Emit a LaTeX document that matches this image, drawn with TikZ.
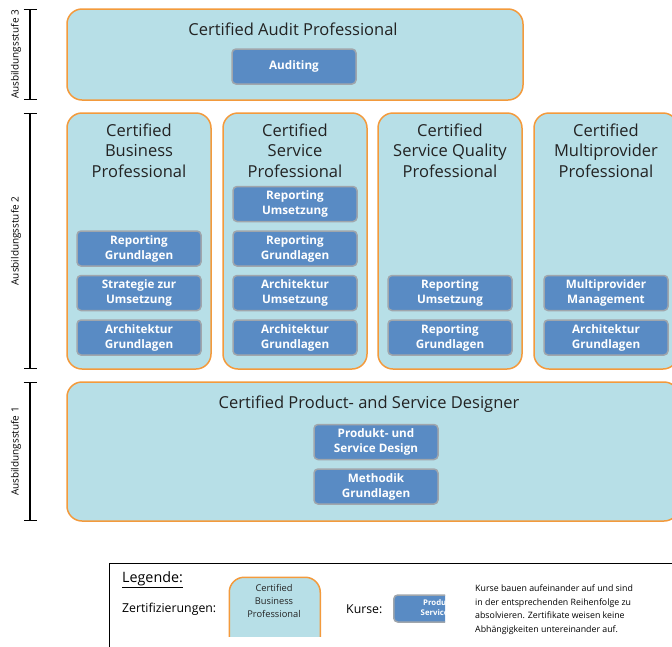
\documentclass[tikz,border=0pt]{standalone}
\usepackage{fontspec}
\setmainfont{Open Sans}
\usetikzlibrary{positioning,arrows.meta}
\definecolor{certblau}{RGB}{183,223,231}
\definecolor{certorange}{RGB}{243,154,60}
\definecolor{kursblau}{RGB}{89,139,196}
\definecolor{kursgrau}{RGB}{160,166,172}
\definecolor{titelgrau}{RGB}{35,35,35}
\begin{document}
\begin{tikzpicture}[x=1pt, y=-1pt,
  cert/.style={rectangle, rounded corners=15pt, draw=certorange, line width=1.5pt, fill=certblau, inner sep=0pt},
  kurs/.style={rectangle, rounded corners=4pt, draw=kursgrau, line width=1.5pt, fill=kursblau, text=white,
    font=\bfseries\fontsize{11.7}{15}\selectfont, align=center, minimum width=124pt, minimum height=35pt, inner sep=0pt},
  titel/.style={font=\fontsize{16.5}{20.5}\selectfont, text=titelgrau, align=center, inner sep=0pt},
  stufe/.style={{Bar[width=13pt]}-{Bar[width=13pt]}, line width=1.2pt},
  stufentext/.style={rotate=90, font=\fontsize{10}{11}\selectfont}
]
\useasboundingbox (0,0) rectangle (672,646);
\clip (0,0) rectangle (672,646);

% Ausbildungsstufe 3
\node[cert, minimum width=456pt, minimum height=91pt] (cap) at (295,54.5) {};
\node[titel, below=14pt of cap.north, xshift=-2pt] (captitel) {Certified Audit Professional};
\node[kurs] (auditing) at (294,66.5) {Auditing};

% Ausbildungsstufe 2
\node[cert, minimum width=144pt, minimum height=256pt] (cbp) at (139,241) {};
\node[titel, below=11pt of cbp.north] {Certified\\Business\\Professional};
\node[kurs, above=14pt of cbp.south] (cbp1) {Architektur\\Grundlagen};
\node[kurs, above=8pt of cbp1] (cbp2) {Strategie zur\\Umsetzung};
\node[kurs, above=8pt of cbp2] (cbp3) {Reporting\\Grundlagen};

\node[cert, minimum width=144pt, minimum height=256pt] (csp) at (295,241) {};
\node[titel, below=11pt of csp.north] {Certified\\Service\\Professional};
\node[kurs, above=14pt of csp.south] (csp1) {Architektur\\Grundlagen};
\node[kurs, above=8pt of csp1] (csp2) {Architektur\\Umsetzung};
\node[kurs, above=8pt of csp2] (csp3) {Reporting\\Grundlagen};
\node[kurs, above=8pt of csp3] (csp4) {Reporting\\Umsetzung};

\node[cert, minimum width=144pt, minimum height=256pt] (csqp) at (450,241) {};
\node[titel, below=11pt of csqp.north] {Certified\\Service Quality\\Professional};
\node[kurs, above=14pt of csqp.south] (csqp1) {Reporting\\Grundlagen};
\node[kurs, above=8pt of csqp1] (csqp2) {Reporting\\Umsetzung};

\node[cert, minimum width=144pt, minimum height=256pt] (cmp) at (606,241) {};
\node[titel, below=11pt of cmp.north] {Certified\\Multiprovider\\Professional};
\node[kurs, above=14pt of cmp.south] (cmp1) {Architektur\\Grundlagen};
\node[kurs, above=8pt of cmp1] (cmp2) {Multiprovider\\Management};

% Ausbildungsstufe 1
\node[cert, minimum width=612pt, minimum height=139pt] (cpsd) at (373,451.5) {};
\node[titel, anchor=north] (cpsdtitel) at (369,396) {Certified Product- and Service Designer};
\node[kurs] (methodik) at (376,486.5) {Methodik\\Grundlagen};
\node[kurs, above=8pt of methodik] (psdesign) {Produkt- und\\Service Design};

% Stufen
\coordinate (s3o) at (30,9);   \coordinate (s3u) at (30,100);
\coordinate (s2o) at (30,113); \coordinate (s2u) at (30,369);
\coordinate (s1o) at (30,382); \coordinate (s1u) at (30,521);
\draw[stufe] (s3o) -- (s3u);
\draw[stufe] (s2o) -- (s2u);
\draw[stufe] (s1o) -- (s1u);
\node[stufentext] (s3text) at (16,54.5) {Ausbildungsstufe 3};
\node[stufentext] (s2text) at (16,241) {Ausbildungsstufe 2};
\node[stufentext] (s1text) at (16,451.5) {Ausbildungsstufe 1};

% Legende
\node[draw=black, line width=1.3pt, minimum width=600pt, minimum height=120pt, anchor=north west] (legende) at (109,563) {};
\node[anchor=base west, inner sep=0pt, font=\fontsize{14.3}{16}\selectfont] (legtitel) at (122,582) {\underline{Legende:}};
\node[anchor=west, inner sep=0pt, font=\fontsize{12.3}{14}\selectfont] (legzert) at (122,609) {Zertifizierungen:};
\begin{scope}
  \clip (200,560) rectangle (340,636);
  \node[cert, minimum width=91pt, minimum height=80pt, anchor=north west] (legcert) at (228.5,576.5) {};
\end{scope}
\node[titel, font=\fontsize{9.3}{13}\selectfont, anchor=north] (legcerttext) at (274,584) {Certified\\Business\\Professional};
\node[anchor=west, inner sep=0pt, font=\fontsize{12.3}{14}\selectfont] (legkurse) at (346,609) {Kurse:};
\begin{scope}
  \clip (385,590) rectangle (445,630);
  \node[kurs, minimum width=110pt, minimum height=27pt, font=\bfseries\fontsize{7.8}{10}\selectfont, anchor=west] (legkurs) at (393,608.5) {Produkt- und\\Service Design};
\end{scope}
\node[anchor=north west, align=left, inner sep=0pt, font=\fontsize{8.8}{13.5}\selectfont] (legtext) at (475,585)
  {Kurse bauen aufeinander auf und sind\\in der entsprechenden Reihenfolge zu\\absolvieren. Zertifikate weisen keine\\Abhängigkeiten untereinander auf.};
\end{tikzpicture}
\end{document}
